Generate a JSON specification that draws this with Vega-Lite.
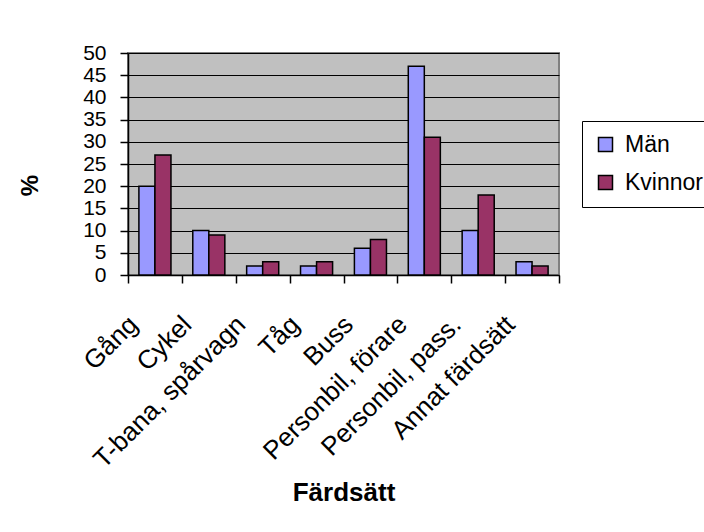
{
  "$schema": "https://vega.github.io/schema/vega-lite/v6.json",
  "width": 431,
  "height": 222,
  "autosize": "none",
  "padding": {"left": 128, "top": 53, "right": 145, "bottom": 257},
  "background": "white",
  "data": {
    "values": [
      {"mode": "Gång", "sex": "Män", "pct": 20},
      {"mode": "Gång", "sex": "Kvinnor", "pct": 27},
      {"mode": "Cykel", "sex": "Män", "pct": 10},
      {"mode": "Cykel", "sex": "Kvinnor", "pct": 9},
      {"mode": "T-bana, spårvagn", "sex": "Män", "pct": 2},
      {"mode": "T-bana, spårvagn", "sex": "Kvinnor", "pct": 3},
      {"mode": "Tåg", "sex": "Män", "pct": 2},
      {"mode": "Tåg", "sex": "Kvinnor", "pct": 3},
      {"mode": "Buss", "sex": "Män", "pct": 6},
      {"mode": "Buss", "sex": "Kvinnor", "pct": 8},
      {"mode": "Personbil, förare", "sex": "Män", "pct": 47},
      {"mode": "Personbil, förare", "sex": "Kvinnor", "pct": 31},
      {"mode": "Personbil, pass.", "sex": "Män", "pct": 10},
      {"mode": "Personbil, pass.", "sex": "Kvinnor", "pct": 18},
      {"mode": "Annat färdsätt", "sex": "Män", "pct": 3},
      {"mode": "Annat färdsätt", "sex": "Kvinnor", "pct": 2}
    ]
  },
  "mark": {"type": "bar", "stroke": "black", "strokeWidth": 1.5},
  "encoding": {
    "x": {
      "field": "mode",
      "type": "nominal",
      "sort": ["Gång", "Cykel", "T-bana, spårvagn", "Tåg", "Buss", "Personbil, förare", "Personbil, pass.", "Annat färdsätt"],
      "scale": {"paddingInner": 0, "paddingOuter": 0},
      "axis": {
        "title": "Färdsätt",
        "titleFontSize": 26,
        "titleFontWeight": "bold",
        "titleColor": "black",
        "titleBaseline": "top",
        "titleY": 204,
        "labelAngle": -45,
        "labelAlign": "right",
        "labelBaseline": "top",
        "labelFontSize": 26,
        "labelColor": "black",
        "labelOffset": -31,
        "labelPadding": 28,
        "labelOverlap": false,
        "labelLimit": 400,
        "tickBand": "extent",
        "tickColor": "black",
        "tickSize": 8,
        "tickWidth": 1.5,
        "domainColor": "black",
        "domainWidth": 1.5,
        "grid": false
      }
    },
    "xOffset": {
      "field": "sex",
      "sort": ["Män", "Kvinnor"],
      "scale": {"paddingInner": 0, "paddingOuter": 0.68}
    },
    "y": {
      "field": "pct",
      "type": "quantitative",
      "scale": {"domain": [0, 50], "nice": false},
      "axis": {
        "values": [0, 5, 10, 15, 20, 25, 30, 35, 40, 45, 50],
        "title": "%",
        "titleFontSize": 24,
        "titleFontWeight": "bold",
        "titleColor": "black",
        "titleX": -86,
        "titleY": 132,
        "titleAngle": -90,
        "labelFontSize": 21,
        "labelColor": "black",
        "labelPadding": 14,
        "labelOverlap": false,
        "labelFlush": false,
        "tickColor": "black",
        "tickSize": 8,
        "tickWidth": 1.5,
        "domainColor": "black",
        "domainWidth": 1.5,
        "grid": true,
        "gridColor": "black",
        "gridWidth": 1,
        "gridOpacity": 1
      }
    },
    "color": {
      "field": "sex",
      "type": "nominal",
      "sort": ["Män", "Kvinnor"],
      "scale": {"domain": ["Män", "Kvinnor"], "range": ["#9999FF", "#993366"]},
      "legend": {
        "title": null,
        "orient": "none",
        "legendX": 454,
        "legendY": 68,
        "strokeColor": "black",
        "fillColor": "white",
        "padding": 12,
        "symbolType": "square",
        "symbolSize": 196,
        "symbolStrokeColor": "black",
        "symbolStrokeWidth": 1.5,
        "symbolOpacity": 1,
        "labelFontSize": 23,
        "labelColor": "black",
        "labelOffset": 8,
        "rowPadding": 14
      }
    }
  },
  "config": {
    "font": "Liberation Sans",
    "view": {"fill": "#C0C0C0", "stroke": "#808080", "strokeWidth": 2}
  }
}
